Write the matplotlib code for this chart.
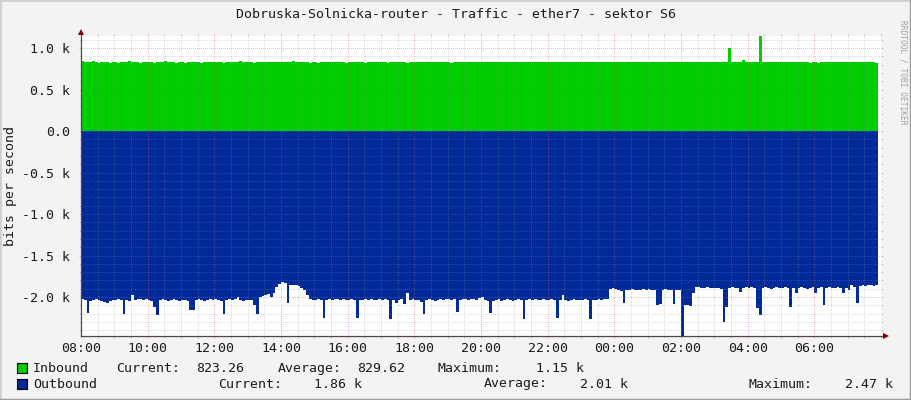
import numpy as np
import matplotlib
matplotlib.use('Agg')
import matplotlib.pyplot as plt
from matplotlib.lines import Line2D
from matplotlib.patches import Rectangle
from matplotlib.ticker import MultipleLocator

# ── data (bits per second, 5 min samples from 08:00, one row per hour) ──────
inbound = [
    840, 836, 828, 826, 838, 826, 824, 826, 826, 826, 824, 826,
    826, 824, 826, 826, 826, 840, 826, 826, 826, 824, 826, 826,
    826, 826, 824, 826, 826, 826, 838, 826, 826, 826, 824, 826,
    826, 824, 826, 826, 826, 826, 826, 824, 836, 826, 826, 826,
    826, 826, 826, 824, 826, 826, 826, 826, 826, 838, 826, 826,
    826, 826, 824, 826, 826, 826, 826, 836, 826, 826, 826, 826,
    826, 826, 826, 826, 838, 826, 826, 826, 826, 826, 824, 826,
    826, 824, 826, 826, 826, 826, 826, 826, 826, 826, 826, 824,
    826, 826, 826, 826, 826, 826, 824, 826, 826, 826, 826, 826,
    826, 826, 824, 826, 826, 826, 826, 826, 826, 824, 826, 826,
    826, 826, 826, 826, 826, 826, 826, 826, 826, 826, 826, 826,
    826, 824, 826, 826, 826, 826, 826, 826, 826, 826, 826, 826,
    826, 826, 826, 826, 826, 826, 826, 826, 826, 826, 826, 826,
    826, 826, 826, 826, 826, 826, 826, 826, 826, 826, 826, 826,
    826, 826, 826, 826, 826, 826, 826, 826, 826, 826, 826, 826,
    826, 826, 826, 826, 826, 826, 826, 826, 826, 826, 826, 826,
    826, 826, 826, 826, 826, 826, 826, 826, 826, 826, 826, 826,
    826, 826, 826, 834, 826, 826, 826, 826, 826, 826, 826, 826,
    826, 826, 826, 826, 826, 826, 826, 826, 826, 826, 826, 826,
    826, 826, 826, 826, 826, 1000, 826, 826, 826, 826, 855, 826,
    826, 826, 826, 826, 1150, 835, 826, 826, 826, 826, 826, 826,
    826, 826, 826, 826, 826, 826, 826, 826, 826, 826, 824, 826,
    826, 824, 826, 826, 826, 826, 826, 826, 826, 826, 826, 826,
    826, 826, 826, 826, 826, 826, 826, 826, 826, 826, 823,
]
outbound = [
    -2030, -2040, -2190, -2050, -2040, -2030, -2040, -2050, -2060, -2070, -2050, -2040,
    -2040, -2030, -2040, -2200, -2040, -2050, -1970, -2040, -2030, -2020, -2040, -2030,
    -2040, -2050, -2120, -2220, -2040, -2030, -2040, -2050, -2040, -2030, -2040, -2050,
    -2040, -2040, -2050, -2160, -2160, -2040, -2030, -2040, -2050, -2040, -2030, -2040,
    -2030, -2040, -2050, -2200, -2040, -2030, -2040, -2020, -2000, -2040, -2050, -2040,
    -2040, -2040, -2100, -2200, -2000, -1990, -1970, -1960, -2000, -1950, -1880, -1840,
    -1820, -1830, -2070, -1850, -1860, -1850, -1870, -1890, -1920, -1980, -2030, -2040,
    -2040, -2030, -2040, -2250, -2040, -2030, -2040, -2030, -2020, -2040, -2030, -2040,
    -2040, -2030, -2040, -2250, -2040, -2040, -2030, -2040, -2030, -2040, -2040, -2030,
    -2040, -2030, -2040, -2260, -2040, -2070, -2040, -2030, -2090, -1950, -2040, -2030,
    -2040, -2040, -2060, -2200, -2040, -2030, -2040, -2050, -2040, -2030, -2040, -2020,
    -2030, -2040, -2030, -2180, -2040, -2030, -2020, -2040, -2030, -2020, -2040, -2010,
    -2000, -2040, -2050, -2190, -2050, -2040, -2030, -2050, -2040, -2030, -2040, -2050,
    -2040, -2030, -2040, -2260, -2040, -2030, -2040, -2030, -2040, -2040, -2030, -2040,
    -2040, -2030, -2040, -2250, -2040, -1970, -2040, -2050, -2040, -2030, -2040, -2040,
    -2040, -2030, -2040, -2260, -2040, -2040, -2030, -2040, -2030, -2030, -1900, -1890,
    -1900, -1910, -1930, -2070, -1910, -1920, -1900, -1910, -1920, -1910, -1900, -1910,
    -1900, -1910, -1920, -2100, -2080, -1910, -1900, -1920, -1910, -2090, -1910, -1920,
    -2470, -2100, -2100, -2110, -1950, -1880, -1880, -1890, -1890, -1880, -1890, -1890,
    -1890, -1890, -1900, -2300, -2120, -1890, -1880, -1890, -1890, -1940, -1890, -1880,
    -1890, -1880, -1890, -2130, -2220, -1890, -1880, -1890, -1900, -1890, -1880, -1890,
    -1890, -1880, -1890, -2120, -1890, -1950, -1890, -1880, -1890, -1900, -1890, -1880,
    -1950, -1890, -1880, -2100, -1890, -1880, -1890, -1890, -1880, -1890, -1950, -1890,
    -1920, -1860, -1880, -2070, -1870, -1860, -1870, -1860, -1850, -1870, -1860,
]
step_h   = 5 / 60
x_labels = ['08:00', '10:00', '12:00', '14:00', '16:00', '18:00',
            '20:00', '22:00', '00:00', '02:00', '04:00', '06:00']
y_values = [1000, 500, 0, -500, -1000, -1500, -2000]
y_labels = ['1.0 k', '0.5 k', '0.0', '-0.5 k', '-1.0 k', '-1.5 k', '-2.0 k']
y_range  = (-2470, 1145)

series    = ['Inbound', 'Outbound']
current   = ['823.26', '1.86 k']
average   = ['829.62', '2.01 k']
maximum   = ['1.15 k', '2.47 k']

title = 'Dobruska-Solnicka-router - Traffic - ether7 - sektor S6'

# ── style ─────────────────────────────────────────────────────────────────
W, H   = 911, 400
BACK   = '#F3F3F3'
GREEN  = '#00CC00'
BLUE   = '#002A97'
FONT   = 'DejaVu Sans Mono'
FS     = 9.5
TXT    = '#1a1a1a'
plt.rcParams['font.family'] = FONT

fig = plt.figure(figsize=(W / 100, H / 100), dpi=100, facecolor=BACK)
ax = fig.add_axes([81 / W, 64 / H, 800 / W, 300 / H], facecolor='white')

edges_in  = np.arange(len(inbound) + 1) * step_h
edges_out = np.arange(len(outbound) + 1) * step_h
ax.stairs(inbound, edges_in, fill=True, baseline=0, color=GREEN, lw=0, zorder=1)
ax.stairs(outbound, edges_out, fill=True, baseline=0, color=BLUE, lw=0, zorder=1)

ax.set_xlim(0, 24)
ax.set_ylim(*y_range)
ax.set_xticks(np.arange(len(x_labels)) * 2, x_labels)
ax.set_yticks(y_values, y_labels)
ax.xaxis.set_minor_locator(MultipleLocator(0.5))
ax.yaxis.set_minor_locator(MultipleLocator(100))

ax.set_axisbelow(False)
ax.grid(which='minor', color='#8F8F8F', alpha=0.3, linestyle=(0, (1, 2)),
        lw=0.72, antialiased=False)
ax.grid(which='major', color='#DE5050', alpha=0.4, linestyle=(0, (1, 2)),
        lw=0.72, antialiased=False)

for s in ax.spines.values():
    s.set_visible(False)
ax.tick_params(which='both', direction='out', length=1.6, width=0.72,
               top=True, right=True, labelsize=FS, labelcolor=TXT)
ax.tick_params(which='minor', color='#C0C0C0')
ax.tick_params(which='major', color='#EBA8A8')
ax.tick_params(axis='y', pad=6.5)
ax.tick_params(axis='x', pad=2.5)

# axis lines + arrows
ax.add_line(Line2D([0, 0], [0, 1 + 4 / 300], transform=ax.transAxes,
                   color='#504848', lw=0.9, clip_on=False, zorder=5))
ax.add_line(Line2D([0, 1 + 5 / 800], [0, 0], transform=ax.transAxes,
                   color='#504848', lw=0.9, clip_on=False, zorder=5))
ax.plot([0], [1 + 4.5 / 300], marker='^', ms=4.2, color='#7F0000', mew=0,
        transform=ax.transAxes, clip_on=False, zorder=6)
ax.plot([1 + 5 / 800], [0], marker='>', ms=4.2, color='#7F0000', mew=0,
        transform=ax.transAxes, clip_on=False, zorder=6)

# ── texts ─────────────────────────────────────────────────────────────────
fig.text(0.5, 1 - 14 / H, title, ha='center', va='center', fontsize=FS, color=TXT)
fig.text(11 / W, 1 - 186 / H, 'bits per second', rotation=90,
         ha='center', va='center', fontsize=FS, color=TXT)
fig.text(903 / W, 1 - 72 / H, 'RRDTOOL / TOBI OETIKER', rotation=270,
         ha='center', va='center', fontsize=5.7, color='#A0A0A0')

# legend
rows_y   = [368.3, 384.0]
colors   = [GREEN, BLUE]
col_x    = [[116.7, 196.7, 279.0, 358.3, 438.3, 537.0],
            [219.3, 315.0, 485.0, 580.7, 749.3, 845.7]]
for i, name in enumerate(series):
    y = 1 - rows_y[i] / H
    fig.patches.append(Rectangle((17 / W, y - 5 / H), 10 / W, 10 / H,
                                 transform=fig.transFigure, facecolor=colors[i],
                                 edgecolor='black', lw=0.8))
    pieces = [name, 'Current:', current[i], 'Average:', average[i],
              'Maximum:', maximum[i]]
    xs = [34] + col_x[i]
    for px, txt in zip(xs, pieces):
        fig.text((px - 1) / W, y, txt, ha='left', va='center', fontsize=FS, color=TXT)

# outer frame
fig.add_artist(Line2D([0, 0, 1], [0, 1, 1], transform=fig.transFigure,
                      color='#CFCFCF', lw=2))
fig.add_artist(Line2D([0, 1, 1], [0, 0, 1], transform=fig.transFigure,
                      color='#9E9E9E', lw=2.5))

fig.savefig('out.png', dpi=100, facecolor=BACK)
